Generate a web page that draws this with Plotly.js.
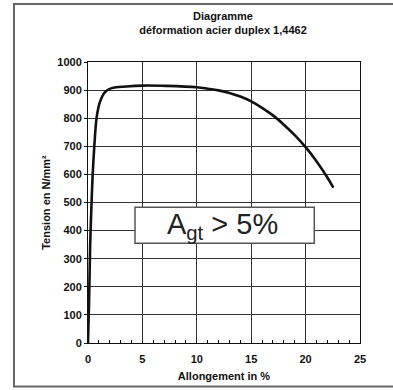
<!DOCTYPE html>
<html>
<head>
<meta charset="utf-8">
<script src="https://cdn.plot.ly/plotly-3.0.1.min.js"></script>
<style>html,body{margin:0;padding:0;background:#fff;}#chart{width:393px;height:390px;}</style>
</head>
<body>
<div id="chart"></div>
<script>
// Data
const elongation = [0, 0.1, 0.2, 0.3, 0.43, 0.58, 0.8, 1.1, 1.56, 2.18, 3.55, 5.08, 7.2, 10, 11, 12, 13, 14, 15, 16, 17, 18, 19, 20, 21, 22, 22.55];
const stress =     [0, 150, 350, 470, 600, 700, 804, 858, 893, 907, 913, 916, 915, 910, 905, 899, 890, 877, 860, 837, 810, 777, 740, 697, 647, 589, 553];
const xTicks = [0, 5, 10, 15, 20, 25];
const yTicks = [0, 100, 200, 300, 400, 500, 600, 700, 800, 900, 1000];
const titleLines = ["Diagramme", "déformation acier duplex 1,4462"];
const xTitle = "Allongement in %";
const yTitle = "Tension en N/mm²";
const boxLabel = "A<sub>gt</sub> &gt; 5%";

const FONT = "Arial, 'Liberation Sans', sans-serif";
const L = 88, R = 33, T = 62, B = 47;
const pw = 393 - L - R, ph = 390 - T - B;
const px = v => (v - L) / pw;          // pixel -> paper x
const py = v => (390 - B - v) / ph;    // pixel -> paper y

const trace = {
  x: elongation, y: stress, type: 'scatter', mode: 'lines',
  line: {color: '#111', width: 2.6, shape: 'spline', smoothing: 1},
  hoverinfo: 'skip'
};

const layout = {
  width: 393, height: 390,
  margin: {l: L, r: R, t: T, b: B},
  paper_bgcolor: '#fff', plot_bgcolor: '#fff',
  showlegend: false,
  font: {family: FONT, color: '#111'},
  title: {
    text: '<b>' + titleLines.join('</b><br><b>') + '</b>',
    font: {size: 11, family: FONT, color: '#111'},
    x: px(223), xanchor: 'center', xref: 'paper',
    y: 1 - 20 / 390, yanchor: 'middle'
  },
  xaxis: {
    range: [0, 25], tickvals: xTicks, ticktext: xTicks.map(v => '<b>' + v + '</b>'),
    showgrid: true, gridcolor: '#333', gridwidth: 1,
    showline: true, linecolor: '#111', linewidth: 1, mirror: true,
    zeroline: false,
    ticks: 'inside', ticklen: 3, tickcolor: '#111',
    ticklabelstandoff: 6,
    minor: {dtick: 1, ticks: 'inside', ticklen: 3, tickcolor: '#111', showgrid: false},
    tickfont: {size: 11, family: FONT, color: '#111'},
    title: {text: '<b>' + xTitle + '</b>', font: {size: 11, family: FONT, color: '#111'}, standoff: 8}
  },
  yaxis: {
    range: [0, 1000], tickvals: yTicks, ticktext: yTicks.map(v => '<b>' + v + '</b>'),
    showgrid: true, gridcolor: '#333', gridwidth: 1,
    showline: true, linecolor: '#111', linewidth: 1, mirror: true,
    zeroline: false,
    ticks: 'outside', ticklen: 3, tickcolor: '#111',
    tickfont: {size: 11, family: FONT, color: '#111'},
    title: {text: '<b>' + yTitle + '</b>', font: {size: 11, family: FONT, color: '#111'}, standoff: 4}
  },
  shapes: [
    {type: 'rect', xref: 'paper', yref: 'paper',
     x0: px(14), x1: px(396), y0: py(386.5), y1: py(4),
     line: {color: '#666', width: 2}, fillcolor: 'rgba(0,0,0,0)', layer: 'below'},
    {type: 'rect', xref: 'x', yref: 'y',
     x0: 4.32, x1: 20.8, y0: 355, y1: 483,
     line: {color: '#555', width: 1.5}, fillcolor: '#fff', layer: 'above'}
  ],
  annotations: [
    {x: 12.4, y: 416, xref: 'x', yref: 'y', text: boxLabel, showarrow: false,
     font: {size: 29, family: FONT, color: '#222'}, xanchor: 'center', yanchor: 'middle'}
  ]
};

Plotly.newPlot('chart', [trace], layout, {staticPlot: true, displayModeBar: false});
</script>
</body>
</html>
